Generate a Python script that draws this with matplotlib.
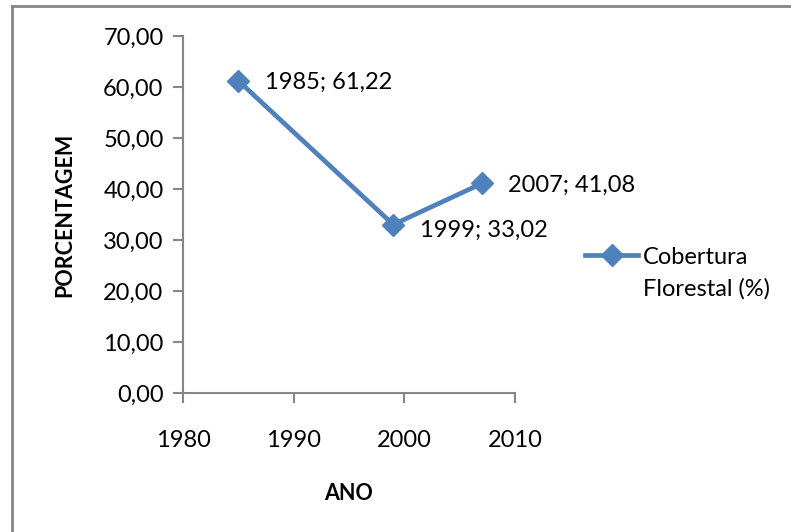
import numpy as np
import matplotlib.pyplot as plt
from matplotlib.lines import Line2D
from matplotlib.legend_handler import HandlerLine2D

plt.rcParams['font.family'] = ['Lato', 'DejaVu Sans']

anos = [1985, 1999, 2007]
cobertura = [61.22, 33.02, 41.08]
rotulos = ['1985; 61,22', '1999; 33,02', '2007; 41,08']
serie = 'Cobertura\nFlorestal (%)'

azul = '#4F81BD'
cinza = '#868686'


class HandlerPrimeiraLinha(HandlerLine2D):
    # alinha o símbolo da legenda com a primeira linha do texto
    def __init__(self, subir, **kw):
        super().__init__(**kw)
        self.subir = subir

    def create_artists(self, legend, orig_handle, xdescent, ydescent,
                       width, height, fontsize, trans):
        arts = super().create_artists(legend, orig_handle, xdescent, ydescent,
                                      width, height, fontsize, trans)
        for a in arts:
            a.set_ydata(np.asarray(a.get_ydata()) + self.subir)
        return arts


fig = plt.figure(figsize=(7.91, 5.32), dpi=100)
ax = fig.add_axes([0.2314, 0.2613, 0.651 - 0.2314, 0.9323 - 0.2613])

linha, = ax.plot(anos, cobertura, color=azul, lw=3.4, marker='D', markersize=11,
                 markeredgecolor=azul, markerfacecolor=azul, clip_on=False)

# rótulos de dados à direita de cada ponto
desloc = [(19, -1), (19, -4), (19, -1)]
for x, y, txt, d in zip(anos, cobertura, rotulos, desloc):
    ax.annotate(txt, (x, y), xytext=d, textcoords='offset points',
                va='center', ha='left', fontsize=17)

ax.set_xlim(1980, 2010)
ax.set_ylim(0, 70)
ax.set_xticks([1980, 1990, 2000, 2010])
ax.set_yticks(range(0, 71, 10))
ax.set_yticklabels([f'{v},00' for v in range(0, 71, 10)])

for s in ['top', 'right']:
    ax.spines[s].set_visible(False)
for s in ['left', 'bottom']:
    ax.spines[s].set_color(cinza)
    ax.spines[s].set_linewidth(1.5)
ax.tick_params(direction='out', length=7, width=1.5, color=cinza,
               labelsize=17, labelcolor='black')
ax.tick_params(axis='x', pad=20)
ax.tick_params(axis='y', pad=7)

ax.set_xlabel('ANO', fontsize=15.5, fontweight='bold', labelpad=23)
ax.set_ylabel('PORCENTAGEM', fontsize=15.5, fontweight='bold', labelpad=20)

# legenda à direita
leg = fig.legend(handles=[linha], labels=[serie], loc='center left',
                 bbox_to_anchor=(0.713, 0.486), frameon=False,
                 fontsize=17, handlelength=2.25, handletextpad=0.2,
                 handler_map={linha: HandlerPrimeiraLinha(13.3)})
for t in leg.get_texts():
    t.set_linespacing(1.6)

# borda da área do gráfico
fig.add_artist(Line2D([0.0152, 0.0152], [0, 0.9887], transform=fig.transFigure,
                      color=cinza, lw=2))
fig.add_artist(Line2D([0.0152, 1.0], [0.9887, 0.9887], transform=fig.transFigure,
                      color=cinza, lw=2))

fig.savefig('out.png', dpi=100)
